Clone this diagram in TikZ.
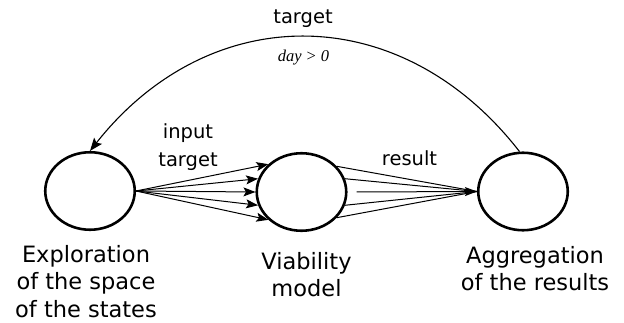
\documentclass[tikz,border=0pt]{standalone}
\usepackage{fontspec}
\setsansfont{DejaVu Sans}
\newfontfamily\dayfont{Liberation Serif}
\usetikzlibrary{arrows.meta,shapes.geometric,calc}
\begin{document}
\begin{tikzpicture}[x=1pt,y=-1pt,
  state/.style={ellipse,draw,line width=2.6pt,minimum width=89.5pt,minimum height=77.5pt,inner sep=0pt},
  conn/.style={line width=1pt},
  tipped/.style={-{Stealth[length=12pt,width=9pt,inset=2.5pt]}},
  lbl/.style={font=\sffamily\fontsize{19.5}{28}\selectfont,inner sep=0pt,align=center},
  captxt/.style={font=\sffamily\fontsize{22.5}{27.5}\selectfont,inner sep=0pt,align=center,anchor=north}]
\useasboundingbox (0,0) rectangle (624,323);
\node[state] (L) at (90,191) {};
\node[state] (M) at (301.5,192) {};
\node[state] (R) at (523,191.5) {};
\node[captxt] (tL) at (86,245) {Exploration\\of the space\\of the states};
\node[captxt] (tM) at (306.5,252) {Viability\\model};
\node[captxt] (tR) at (535,246) {Aggregation\\of the results};
\node[lbl,anchor=north] (lin) at (188,123.5) {input\\target};
\node[lbl,anchor=base] (lres) at (409.5,166) {result};
\node[lbl,anchor=base] (ltop) at (303,24) {target};
\node[inner sep=0pt,anchor=base,font=\dayfont\itshape\fontsize{16.5}{18}\selectfont] (lday) at (303.5,62) {day > 0};
\foreach \a in {140,163,180,197,220}
  \draw[conn,tipped] (L.east) -- (M.\a);
\coordinate (mst) at ($(M.east)+(9,0)$);
\foreach \a in {36,17,-17,-36}
  \draw[conn] (M.\a) -- (R.west);
\draw[conn,tipped] (mst) -- (R.west);
\draw[line width=1.1pt,-{Stealth[length=13pt,width=10pt,inset=2.5pt]}] (R.95) .. controls (401,-1) and (210,-1) .. (L.north);
\end{tikzpicture}
\end{document}
